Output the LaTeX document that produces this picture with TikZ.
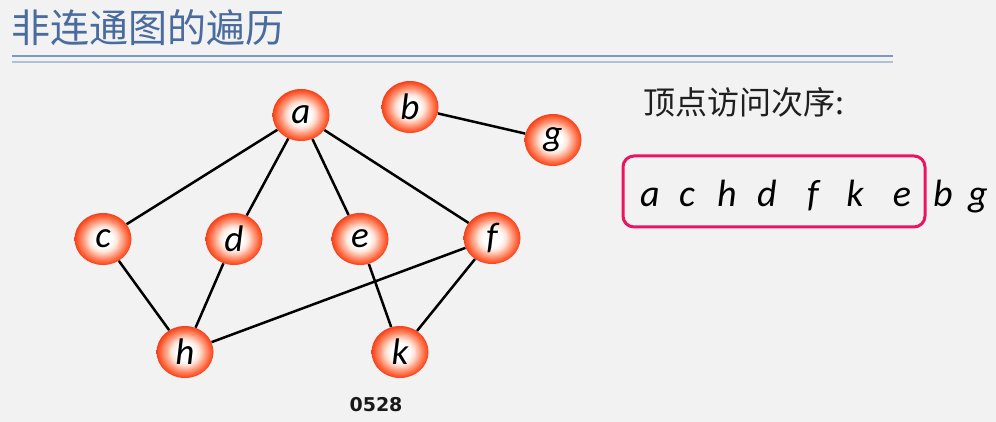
\documentclass[tikz,border=0pt]{standalone}
\usepackage{fontspec}
\setmainfont{Carlito}
\newfontfamily\cjk{Noto Sans CJK SC}
\newfontfamily\numfont{DejaVu Sans}
\usetikzlibrary{shapes.geometric}
\definecolor{bgc}{HTML}{F2F2F2}
\definecolor{titlec}{HTML}{4A6B9D}
\definecolor{lineA}{HTML}{7F98BE}
\definecolor{lineB}{HTML}{AFC0D8}
\definecolor{boxc}{HTML}{EC1461}
\definecolor{ballA}{HTML}{FFFFFF}
\definecolor{ballB}{HTML}{FFE2D6}
\definecolor{ballC}{HTML}{FF9D80}
\definecolor{ballD}{HTML}{FF6238}
\definecolor{ballE}{HTML}{F0421D}
\pgfdeclareradialshading{nodeball}{\pgfpoint{0bp}{0bp}}{%
  color(0bp)=(ballA); color(8bp)=(ballA); color(12.5bp)=(ballB);
  color(17.5bp)=(ballC); color(22bp)=(ballD); color(25bp)=(ballE); color(50bp)=(ballE)}
\tikzset{
  vtx/.style={ellipse, minimum width=57pt, minimum height=52pt, inner sep=0pt,
    shading=nodeball, font=\fontsize{37}{37}\selectfont\itshape},
  edge/.style={line width=2.5pt, black},
  seq/.style={anchor=base, inner sep=0pt, font=\fontsize{38}{38}\selectfont\itshape}
}
\begin{document}
\begin{tikzpicture}[x=1pt,y=-1pt]
\fill[bgc] (0,0) rectangle (996,422);
\useasboundingbox (0,0) rectangle (996,422);
% title
\node[anchor=west, inner sep=0pt, text=titlec, font=\cjk\fontsize{39}{39}\selectfont] (title) at (11,28) {非连通图的遍历};
\coordinate (l1a) at (12,56); \coordinate (l1b) at (893,56);
\coordinate (l2a) at (12,62); \coordinate (l2b) at (893,62);
\draw[lineA, line width=2.4pt] (l1a) -- (l1b);
\draw[lineB, line width=1.4pt] (l2a) -- (l2b);
% vertices
\node[vtx] (a) at (301,115) {a};
\node[vtx] (b) at (410,107) {b};
\node[vtx] (g) at (553,140) {g};
\node[vtx] (c) at (103,239) {c};
\node[vtx] (d) at (234,239) {d};
\node[vtx] (e) at (360,239) {e};
\node[vtx] (f) at (492,238) {f};
\node[vtx] (h) at (185,352) {h};
\node[vtx] (k) at (400,352) {k};
% edges
\draw[edge] (a) -- (c);
\draw[edge] (a) -- (d);
\draw[edge] (a) -- (e);
\draw[edge] (a) -- (f);
\draw[edge] (c) -- (h);
\draw[edge] (d) -- (h);
\draw[edge] (f) -- (h);
\draw[edge] (e) -- (k);
\draw[edge] (f) -- (k);
\draw[edge] (b) -- (g);
\node[font=\numfont\bfseries\fontsize{19}{19}\selectfont, inner sep=0pt, text=black!90] (cap) at (376,405) {0528};
% right side
\node[anchor=west, inner sep=0pt, text=black!88, font=\cjk\fontsize{32}{32}\selectfont] (head) at (643,102) {顶点访问次序:};
\node[draw=boxc, line width=3pt, rounded corners=11pt, minimum width=302pt, minimum height=71pt, inner sep=0pt] (box) at (774,191.5) {};
\node[seq] (s1) at (650,207) {a};
\node[seq] (s2) at (687,207) {c};
\node[seq] (s3) at (727,207) {h};
\node[seq] (s4) at (767,207) {d};
\node[seq] (s5) at (813,207) {f};
\node[seq] (s6) at (855,207) {k};
\node[seq] (s7) at (902,207) {e};
\node[seq] (s8) at (943,207) {b};
\node[seq] (s9) at (978,207) {g};
\end{tikzpicture}
\end{document}
